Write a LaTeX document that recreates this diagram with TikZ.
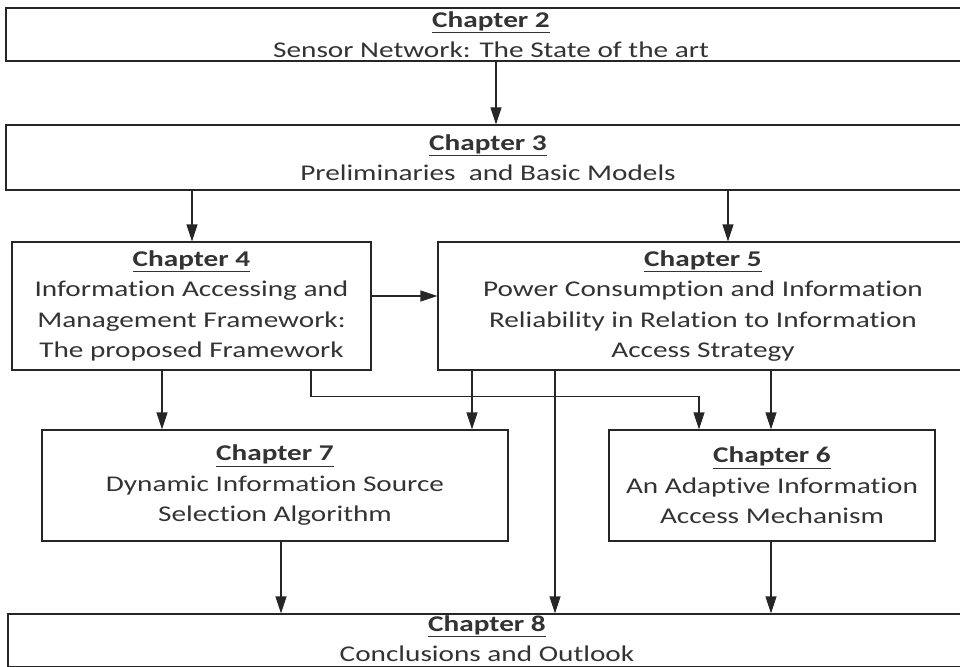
\documentclass[tikz,border=0pt]{standalone}
\usepackage{fontspec}
\setmainfont{Carlito}[Ligatures={NoCommon}, FakeStretch=1.3]
\usetikzlibrary{arrows.meta}

\newcommand{\chaphead}[1]{\underline{\textbf{#1}}}

\begin{document}
\begin{tikzpicture}[x=1pt, y=-1pt,
    chap/.style = {draw=black!85, line width=1.2pt, rectangle, inner sep=0pt, align=center,
                   text=black!80, font=\fontsize{22.5}{30.5}\selectfont},
    arr/.style = {-{Triangle[length=17pt,width=11pt]}, line width=1.2pt, draw=black!85}]
    \useasboundingbox (0,0) rectangle (960,666);
    \clip (0,0) rectangle (960,666);
    \node[chap, minimum width=970pt, minimum height=53pt] (ch2) at (491,34.5) {\chaphead{Chapter 2}\\Sensor Network: The State of the art};
    \node[chap, minimum width=964pt, minimum height=65pt] (ch3) at (488,157.5) {\chaphead{Chapter 3}\\Preliminaries\ \ and Basic Models};
    \node[chap, minimum width=359pt, minimum height=128pt] (ch4) at (191.5,306) {\chaphead{Chapter 4}\\Information Accessing and\\Management Framework:\\The proposed Framework};
    \node[chap, minimum width=530pt, minimum height=128pt] (ch5) at (703,306) {\chaphead{Chapter 5}\\Power Consumption and Information\\Reliability in Relation to Information\\Access Strategy};
    \node[chap, minimum width=466pt, minimum height=111pt] (ch7) at (275,485.5) {\chaphead{Chapter 7}\\Dynamic Information Source\\Selection Algorithm};
    \node[chap, minimum width=326pt, minimum height=111pt] (ch6) at (772,485.5) {\chaphead{Chapter 6}\\An Adaptive Information\\Access Mechanism};
    \node[chap, minimum width=958pt, minimum height=53pt, text depth=4pt] (ch8) at (487,640.5) {\chaphead{Chapter 8}\\Conclusions and Outlook};
    % top part
    \draw[arr] ([xshift=5pt]ch2.south) -- ([xshift=8pt]ch3.north);
    \draw[arr] ([xshift=-296pt]ch3.south) -- ([xshift=0.5pt]ch4.north);
    \draw[arr] ([xshift=240pt]ch3.south) -- ([xshift=25pt]ch5.north);
    \draw[arr] ([yshift=10pt]ch4.east) -- ([yshift=10pt]ch5.west);
    % middle part
    \draw[arr] ([xshift=-29.5pt]ch4.south) -- ([xshift=-113pt]ch7.north);
    \draw[arr] ([xshift=119.5pt]ch4.south) -- ++(0,26) -| ([xshift=-73pt]ch6.north);
    \draw[arr] ([xshift=-231pt]ch5.south) -- ([xshift=197pt]ch7.north);
    \draw[arr] ([xshift=68pt]ch5.south) -- ([xshift=-1pt]ch6.north);
    % into chapter 8
    \draw[arr] ([xshift=-148pt]ch5.south) -- ([xshift=68pt]ch8.north);
    \draw[arr] ([xshift=6pt]ch7.south) -- ([xshift=-206pt]ch8.north);
    \draw[arr] ([xshift=-1pt]ch6.south) -- ([xshift=284pt]ch8.north);
\end{tikzpicture}
\end{document}
